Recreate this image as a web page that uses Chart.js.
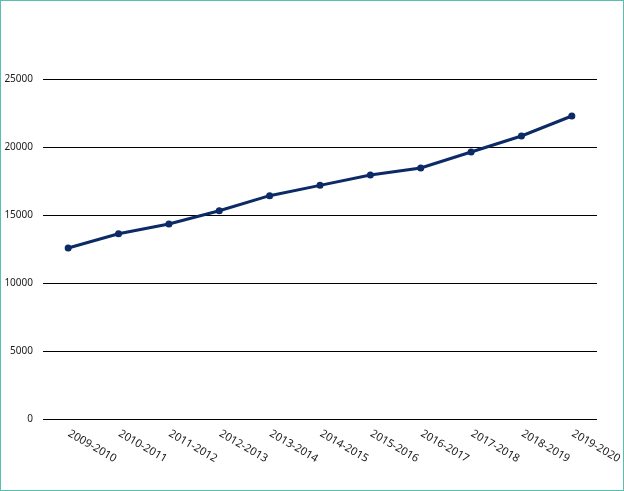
<!DOCTYPE html>
<html>
<head>
<meta charset="utf-8">
<script src="https://cdn.jsdelivr.net/npm/chart.js@4"></script>
<style>
  html, body { margin: 0; padding: 0; background: #fff; }
  #wrap {
    width: 624px; height: 491px;
    box-sizing: border-box;
    border: 1px solid #5bbfb0;
    position: relative;
  }
  #chart { display: block; }
</style>
</head>
<body>
<div id="wrap"><canvas id="chart" width="622" height="489"></canvas></div>
<script>
const years = ['2009-2010', '2010-2011', '2011-2012', '2012-2013', '2013-2014', '2014-2015',
  '2015-2016', '2016-2017', '2017-2018', '2018-2019', '2019-2020'];
const values = [12570, 13620, 14340, 15310, 16420, 17180, 17940, 18460, 19630, 20810, 22280];
const yTicks = [0, 5000, 10000, 15000, 20000, 25000];

const lineColor = '#0b2a66';

// Excel-style x labels: rotated clockwise, starting at the category
const slantedLabels = {
  id: 'slantedLabels',
  afterDraw(chart) {
    const ctx = chart.ctx;
    const x = chart.scales.x;
    ctx.save();
    ctx.font = '11px "Noto Sans"';
    ctx.fillStyle = '#1a1a1a';
    ctx.textAlign = 'left';
    ctx.textBaseline = 'top';
    years.forEach((label, i) => {
      const px = x.getPixelForValue(i) + 3.5;
      const py = chart.chartArea.bottom + 9;
      ctx.save();
      ctx.translate(px, py);
      ctx.rotate(30 * Math.PI / 180);
      ctx.fillText(label, 0, 0);
      ctx.restore();
    });
    ctx.restore();
  }
};

new Chart(document.getElementById('chart'), {
  type: 'line',
  data: {
    labels: years,
    datasets: [{
      data: values,
      borderColor: lineColor,
      backgroundColor: lineColor,
      borderWidth: 3,
      pointRadius: 3.5,
      pointHoverRadius: 3.5,
      pointBorderWidth: 0,
      tension: 0
    }]
  },
  options: {
    responsive: false,
    animation: false,
    layout: { padding: { top: 78, right: 26, left: 0, bottom: 0 } },
    plugins: {
      legend: { display: false },
      tooltip: { enabled: false }
    },
    scales: {
      x: {
        offset: true,
        grid: { display: false },
        border: { display: false },
        ticks: { display: false },
        afterFit(scale) { scale.height = 71; }
      },
      y: {
        min: 0,
        max: 25000,
        afterBuildTicks(scale) { scale.ticks = yTicks.map(v => ({ value: v })); },
        afterFit(scale) { scale.width = 42; },
        grid: { color: '#000', lineWidth: 1, drawTicks: false },
        border: { display: false },
        ticks: {
          padding: 10,
          color: '#1a1a1a',
          font: { family: '"Noto Sans"', size: 10 },
          callback: v => String(v)
        }
      }
    }
  },
  plugins: [slantedLabels]
});
</script>
</body>
</html>
